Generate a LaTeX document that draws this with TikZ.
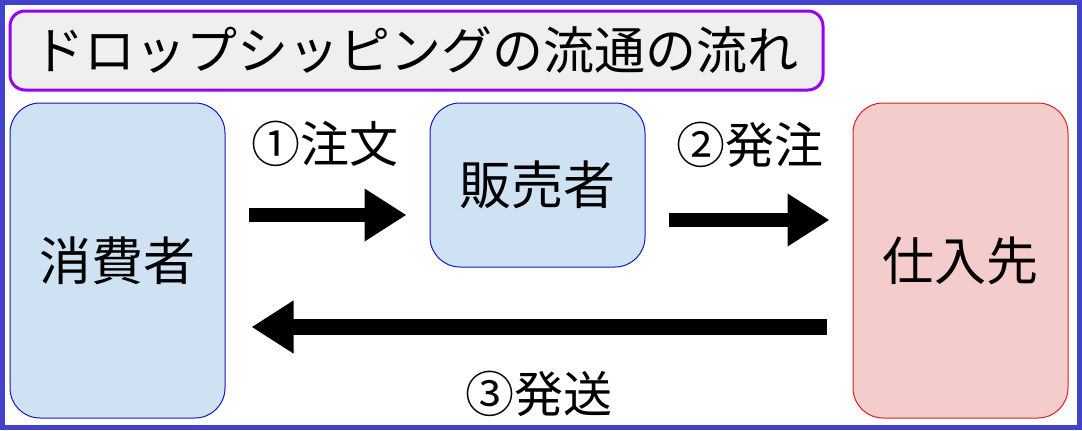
\documentclass[tikz,border=0pt]{standalone}
\usepackage{fontspec}
\usetikzlibrary{arrows.meta}
\newfontfamily\jpfont{Noto Sans CJK JP}
\definecolor{frameblue}{RGB}{66,66,204}
\definecolor{titlepurple}{RGB}{153,0,238}
\definecolor{titlegray}{RGB}{239,239,239}
\definecolor{paleblue}{RGB}{207,226,243}
\definecolor{palered}{RGB}{244,204,204}
\definecolor{edgeblue}{RGB}{20,20,200}
\definecolor{edgered}{RGB}{220,30,30}
\begin{document}
\begin{tikzpicture}[x=1pt, y=-1pt, line join=round, >=stealth]
			\tikzset{every node/.style={font=\jpfont}}
			\tikzset{party/.style={draw, line width=1pt, rounded corners=30pt, minimum width=215pt, inner sep=0pt, font=\jpfont\fontsize{52}{60}\selectfont}}
			\tikzset{bigarrow/.style={line width=14pt, -{Triangle[length=42pt,width=50pt]}, shorten <=23pt, shorten >=23pt}}
			\def\yone{215}\def\ytwo{220}\def\ythree{327}
			\useasboundingbox (0,0) rectangle (1082,431);
			\draw[frameblue, line width=5pt, line join=miter] (2.5,2.5) rectangle (1079.5,427.5);
			\node[draw=titlepurple, fill=titlegray, line width=3pt, rounded corners=15pt, minimum width=813pt, minimum height=79pt, font=\jpfont\fontsize{51}{60}\selectfont] (title) at (416.5,50.5) {ドロップシッピングの流通の流れ};
			\node[party, draw=edgeblue, fill=paleblue, minimum height=315pt] (cons) at (117.5,260.5) {消費者};
			\node[party, draw=edgeblue, fill=paleblue, minimum height=164pt] (seller) at (537.5,185) {販売者};
			\node[party, draw=edgered, fill=palered, minimum height=315pt] (sup) at (960.5,260.5) {仕入先};
			% labels on the arrows
			\foreach \i/\x/\y/\t in {1/325/144/①注文, 2/750/145/②発注, 3/539/394/③発送}
				\node[font=\jpfont\fontsize{49}{58}\selectfont] (lbl\i) at (\x,\y) {\t};
			\draw[bigarrow] (cons.east |- 0,\yone) -- (seller.west |- 0,\yone);
			\draw[bigarrow] (seller.east |- 0,\ytwo) -- (sup.west |- 0,\ytwo);
			\draw[bigarrow, line width=16pt, shorten <=26pt, shorten >=26pt] (sup.west |- 0,\ythree) -- (cons.east |- 0,\ythree);
		\end{tikzpicture}
\end{document}
